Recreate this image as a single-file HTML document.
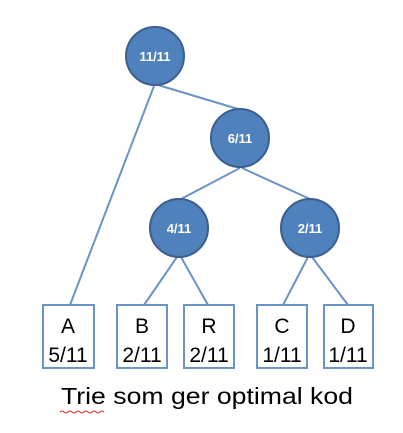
<!DOCTYPE html>
<html><head><style>body{margin:0;background:#fff}svg{display:block}</style></head><body>
<svg width="403" height="433" xmlns="http://www.w3.org/2000/svg">
<g stroke="#6a93c8" stroke-width="2" fill="none">
<line x1="154" y1="86" x2="70" y2="305"/>
<line x1="158" y1="85" x2="238" y2="109"/>
<line x1="240" y1="168" x2="181" y2="199"/>
<line x1="242" y1="168" x2="310" y2="199"/>
<line x1="177" y1="257" x2="144" y2="305"/>
<line x1="181" y1="257" x2="208" y2="305"/>
<line x1="308" y1="257" x2="283" y2="305"/>
<line x1="312" y1="257" x2="348" y2="305"/>
<rect x="43" y="305" width="51" height="63"/>
<rect x="117" y="305" width="50" height="63"/>
<rect x="184" y="305" width="50" height="63"/>
<rect x="257" y="305" width="50" height="63"/>
<rect x="324" y="305" width="49" height="63"/>
</g>
<g fill="#4f81bd" stroke="#3a5f8f" stroke-width="2">
<circle cx="155" cy="56" r="29"/>
<circle cx="240" cy="138" r="29"/>
<circle cx="179" cy="228" r="29"/>
<circle cx="310" cy="228" r="29"/>
</g>
<g fill="#fff" font-family="Liberation Sans, sans-serif" font-weight="bold" font-size="13" text-anchor="middle">
<text x="155" y="61">11/11</text>
<text x="240" y="143">6/11</text>
<text x="179" y="233">4/11</text>
<text x="310" y="233">2/11</text>
</g>
<g fill="#000" font-family="Liberation Sans, sans-serif" font-size="21" text-anchor="middle">
<text x="68" y="333">A</text><text x="68" y="362">5/11</text>
<text x="142" y="333">B</text><text x="142" y="362">2/11</text>
<text x="209" y="333">R</text><text x="209" y="362">2/11</text>
<text x="282" y="333">C</text><text x="282" y="362">1/11</text>
<text x="348" y="333">D</text><text x="348" y="362">1/11</text>
<text x="207" y="404" font-size="23" textLength="292" lengthAdjust="spacingAndGlyphs">Trie som ger optimal kod</text>
</g>
<path d="M60 412 q2 -2 4 0 t4 0 t4 0 t4 0 t4 0 t4 0 t4 0 t4 0 t4 0 t4 0 t4 0" stroke="#e03030" stroke-width="1" fill="none"/>
</svg>
</body></html>
